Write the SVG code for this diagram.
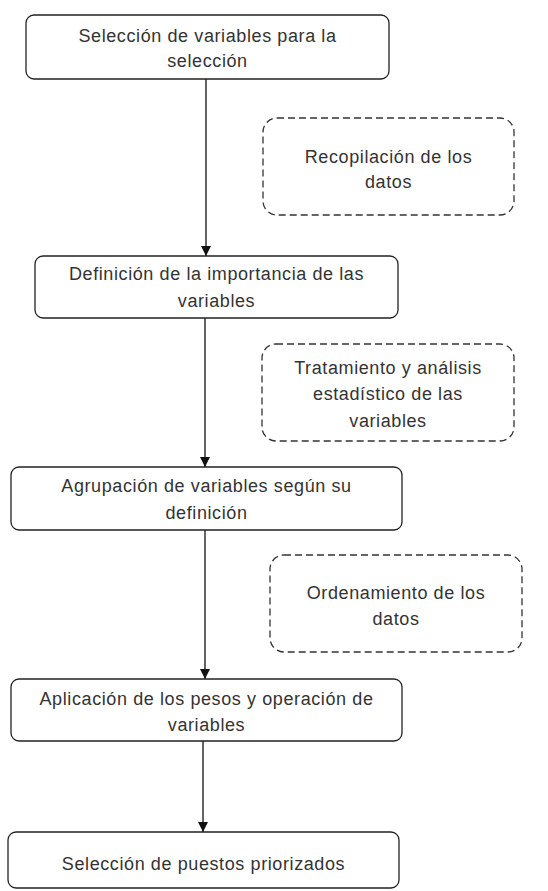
<svg xmlns="http://www.w3.org/2000/svg" width="548" height="891" viewBox="0 0 548 891">
<style>
.box{fill:#fff;stroke:#222;stroke-width:1.3}
.dash{fill:none;stroke:#333;stroke-width:1.3;stroke-dasharray:7 4}
text{font-family:"Liberation Sans",Arial,sans-serif;font-size:18px;letter-spacing:0.6px;fill:#333;text-anchor:middle}
.edge{stroke:#111;stroke-width:1.3;fill:none;marker-end:url(#ah)}
</style>
<defs>
<marker id="ah" viewBox="0 0 10 10" refX="10" refY="5" markerWidth="10" markerHeight="10" markerUnits="userSpaceOnUse" orient="auto">
<path d="M0,0 L10,5 L0,10 z" fill="#111"/>
</marker>
</defs>
<rect width="548" height="891" fill="#fff"/>
<g id="connectors">
<line class="edge" x1="206" y1="79" x2="206" y2="256"/>
<line class="edge" x1="205" y1="318" x2="205" y2="467"/>
<line class="edge" x1="205" y1="530" x2="205" y2="679"/>
<line class="edge" x1="203" y1="741" x2="203" y2="832"/>
</g>
<g id="n1">
<rect class="box" x="26" y="15" width="363" height="64" rx="8"/>
<text x="207.5" y="42">Selección de variables para la</text>
<text x="207.5" y="67">selección</text>
</g>
<g id="d1">
<rect class="dash" x="263" y="118" width="251" height="97" rx="14"/>
<text x="388.5" y="163">Recopilación de los</text>
<text x="388.5" y="188">datos</text>
</g>
<g id="n2">
<rect class="box" x="35" y="256" width="363" height="62" rx="8"/>
<text x="216.5" y="280">Definición de la importancia de las</text>
<text x="216.5" y="307">variables</text>
</g>
<g id="d2">
<rect class="dash" x="262" y="344" width="252" height="97" rx="14"/>
<text x="388" y="374">Tratamiento y análisis</text>
<text x="388" y="400">estadístico de las</text>
<text x="388" y="427">variables</text>
</g>
<g id="n3">
<rect class="box" x="11" y="467" width="391" height="63" rx="8"/>
<text x="206.5" y="492">Agrupación de variables según su</text>
<text x="206.5" y="519">definición</text>
</g>
<g id="d3">
<rect class="dash" x="270" y="555" width="252" height="97" rx="14"/>
<text x="396" y="599">Ordenamiento de los</text>
<text x="396" y="625">datos</text>
</g>
<g id="n4">
<rect class="box" x="11" y="679" width="391" height="62" rx="8"/>
<text x="206.5" y="705">Aplicación de los pesos y operación de</text>
<text x="206.5" y="731">variables</text>
</g>
<g id="n5">
<rect class="box" x="8" y="832" width="391" height="56" rx="8"/>
<text x="203.5" y="870">Selección de puestos priorizados</text>
</g>
</svg>
